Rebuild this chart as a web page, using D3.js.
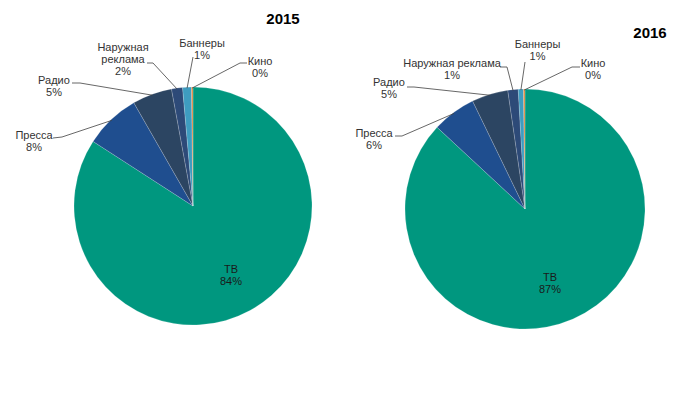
<!DOCTYPE html>
<html>
<head>
<meta charset="utf-8">
<script src="https://cdn.jsdelivr.net/npm/d3@7"></script>
<style>
  body { margin: 0; background: #fff; }
  svg { display: block; font-family: "Liberation Sans", Arial, sans-serif; }
</style>
</head>
<body>
<svg id="chart" width="700" height="393"></svg>
<script>
// data
const categories = ["ТВ", "Пресса", "Радио", "Наружная реклама", "Баннеры", "Кино"];
const years = ["2015", "2016"];
const values2015 = [84.3, 7.6, 5.4, 1.5, 1.2, 0.2];
const values2016 = [87.0, 5.9, 4.9, 1.4, 0.7, 0.2];
const pctLabels2015 = ["84%", "8%", "5%", "2%", "1%", "0%"];
const pctLabels2016 = ["87%", "6%", "5%", "1%", "1%", "0%"];

const colors = ["#00977f", "#1f4e8f", "#2c4562", "#2d4a78", "#3e9cc0", "#e0873a"];

// layout of each pie (label offsets relative to center)
const pies = [
  {
    year: years[0], values: values2015, pct: pctLabels2015,
    cx: 193, cy: 206, r: 119, title: [283, 24],
    names: [["ТВ"], ["Пресса"], ["Радио"], ["Наружная", "реклама"], ["Баннеры"], ["Кино"]],
    labels: [[38, 63], [-159, -71], [-139, -126], [-70, -159], [9, -163], [67, -145]],
    leaders: [null,
      [[-140, -68], [-131, -69]],
      [[-121, -123], [-113, -123]],
      [[-46, -143], [-40, -143]],
      [[0, -149], [0, -149]],
      [[54, -143], [47, -143]]]
  },
  {
    year: years[1], values: values2016, pct: pctLabels2016,
    cx: 525, cy: 209, r: 120, title: [650, 38],
    names: [["ТВ"], ["Пресса"], ["Радио"], ["Наружная реклама"], ["Баннеры"], ["Кино"]],
    labels: [[25, 68], [-151, -76], [-136, -127], [-73, -146], [12.5, -165], [68, -146]],
    leaders: [null,
      [[-130, -73], [-123, -73]],
      [[-118, -122], [-111, -122]],
      [[-25, -142], [-18, -142]],
      [[0, -147], [0, -147]],
      [[55, -142], [47, -142]]]
  }
];

const svg = d3.select("#chart");
const pieGen = d3.pie().sort(null).value(d => d.value);
const lineH = 12;

pies.forEach(p => {
  const data = categories.map((c, i) => ({ name: c, value: p.values[i], i: i }));
  const arcs = pieGen(data);
  const arc = d3.arc().innerRadius(0).outerRadius(p.r);

  const g = svg.append("g").attr("transform", `translate(${p.cx},${p.cy})`);

  g.selectAll("path.slice")
    .data(arcs)
    .join("path")
      .attr("class", "slice")
      .attr("d", arc)
      .attr("fill", d => colors[d.data.i])
      .attr("stroke", "#ffffff")
      .attr("stroke-opacity", 0.35)
      .attr("stroke-width", 0.5);

  // leader lines
  arcs.forEach((d, i) => {
    const ld = p.leaders[i];
    if (!ld) return;
    const mid = (d.startAngle + d.endAngle) / 2;
    const end = [Math.sin(mid) * (p.r - 1), -Math.cos(mid) * (p.r - 1)];
    g.append("path")
      .attr("d", d3.line()([ld[0], ld[1], end]))
      .attr("fill", "none")
      .attr("stroke", "#404040")
      .attr("stroke-width", 0.8);
  });

  // labels
  arcs.forEach((d, i) => {
    const [lx, ly] = p.labels[i];
    const lines = p.names[i].concat([p.pct[i]]);
    const t = g.append("text")
      .attr("text-anchor", "middle")
      .attr("font-size", "11px")
      .attr("fill", i === 0 ? "#1a1a1a" : "#333333");
    lines.forEach((ln, k) => {
      t.append("tspan")
        .attr("x", lx)
        .attr("y", ly + k * lineH + 4)
        .text(ln);
    });
  });

  svg.append("text")
    .attr("x", p.title[0])
    .attr("y", p.title[1])
    .attr("text-anchor", "middle")
    .attr("font-size", "15px")
    .attr("font-weight", "bold")
    .attr("fill", "#000")
    .text(p.year);
});
</script>
</body>
</html>
